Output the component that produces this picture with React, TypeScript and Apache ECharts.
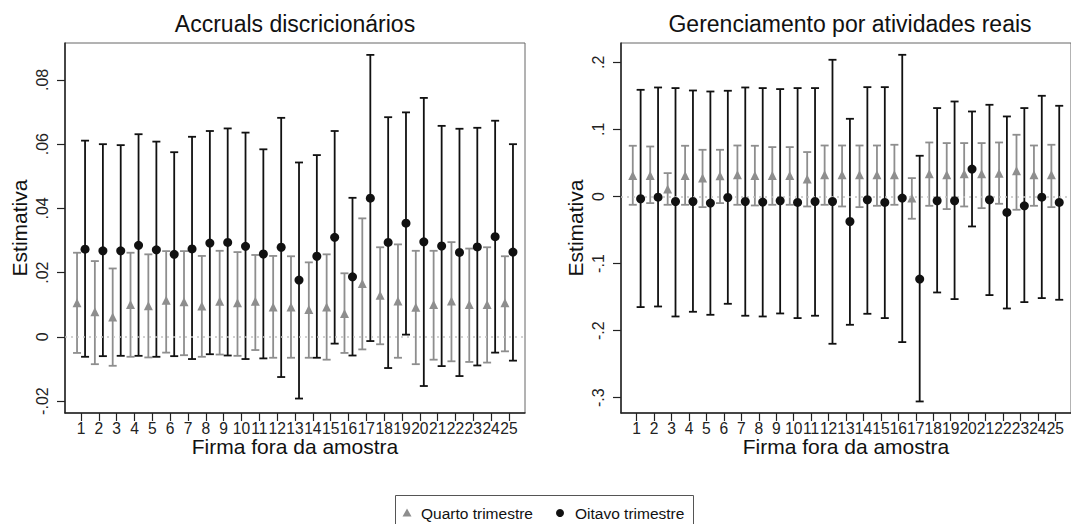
import React, { useEffect, useRef } from "react";
import * as echarts from "echarts";

const firms = [1, 2, 3, 4, 5, 6, 7, 8, 9, 10, 11, 12, 13, 14, 15, 16, 17, 18, 19, 20, 21, 22, 23, 24, 25];

// Accruals discricionários
const accQ4 = [0.0106, 0.0078, 0.0062, 0.0101, 0.0097, 0.0114, 0.0109, 0.0096, 0.0111, 0.0106, 0.0111, 0.0093, 0.0093, 0.0085, 0.0093, 0.0073, 0.0166, 0.013, 0.0112, 0.0092, 0.0101, 0.0112, 0.0101, 0.0101, 0.0106];
const accQ4Hi = [0.0262, 0.0236, 0.0213, 0.0262, 0.0257, 0.0267, 0.0267, 0.0252, 0.0268, 0.0264, 0.0255, 0.0252, 0.0251, 0.0232, 0.0257, 0.0198, 0.0369, 0.0279, 0.0288, 0.0268, 0.0268, 0.0295, 0.0275, 0.0279, 0.0251];
const accQ4Lo = [-0.005, -0.0085, -0.009, -0.0062, -0.0064, -0.0049, -0.0057, -0.0062, -0.0055, -0.0059, -0.0041, -0.0065, -0.0065, -0.0065, -0.0071, -0.005, -0.0039, -0.0023, -0.0065, -0.0085, -0.0071, -0.0076, -0.0078, -0.008, -0.0045];
const accQ8 = [0.0273, 0.0268, 0.0268, 0.0285, 0.0271, 0.0257, 0.0274, 0.0292, 0.0294, 0.0282, 0.0258, 0.0279, 0.0177, 0.0251, 0.031, 0.0187, 0.0432, 0.0294, 0.0354, 0.0296, 0.0283, 0.0263, 0.028, 0.0312, 0.0264];
const accQ8Hi = [0.0611, 0.06, 0.0597, 0.0631, 0.0608, 0.0575, 0.0623, 0.0641, 0.0649, 0.0636, 0.0584, 0.0682, 0.0543, 0.0566, 0.0641, 0.0433, 0.0878, 0.0684, 0.0699, 0.0744, 0.0657, 0.0648, 0.0651, 0.0673, 0.06];
const accQ8Lo = [-0.0062, -0.006, -0.0059, -0.0059, -0.0062, -0.006, -0.0069, -0.0054, -0.0058, -0.0069, -0.0067, -0.0125, -0.0192, -0.0065, -0.0021, -0.0058, -0.0013, -0.0097, 0.0007, -0.0153, -0.0091, -0.0122, -0.0089, -0.0049, -0.0074];

// Gerenciamento por atividades reais
const realQ4 = [0.0313, 0.0313, 0.011, 0.0313, 0.0274, 0.0308, 0.0323, 0.0313, 0.0313, 0.0313, 0.0259, 0.0323, 0.0323, 0.0323, 0.0323, 0.0323, -0.0024, 0.0338, 0.0323, 0.0338, 0.0338, 0.0348, 0.0383, 0.0323, 0.0323];
const realQ4Hi = [0.0756, 0.0745, 0.0348, 0.0756, 0.0696, 0.0696, 0.076, 0.0756, 0.0736, 0.0736, 0.0662, 0.076, 0.076, 0.076, 0.076, 0.0771, 0.0274, 0.0805, 0.0796, 0.0796, 0.0796, 0.0805, 0.092, 0.076, 0.0771];
const realQ4Lo = [-0.0124, -0.0099, -0.0124, -0.0124, -0.0159, -0.0099, -0.0124, -0.0134, -0.0124, -0.0124, -0.0149, -0.0124, -0.0149, -0.0159, -0.0139, -0.0124, -0.0332, -0.0139, -0.0188, -0.0149, -0.0174, -0.0109, -0.0198, -0.0139, -0.0159];
const realQ8 = [-0.0034, -0.001, -0.0075, -0.0075, -0.0099, -0.0015, -0.0075, -0.0084, -0.0064, -0.0089, -0.0075, -0.0075, -0.0373, -0.0049, -0.0089, -0.0024, -0.1231, -0.0064, -0.0064, 0.0408, -0.0049, -0.0238, -0.0139, -0.001, -0.0089];
const realQ8Hi = [0.159, 0.1625, 0.1616, 0.158, 0.1565, 0.1576, 0.1625, 0.1616, 0.1601, 0.1616, 0.1616, 0.2038, 0.1158, 0.163, 0.163, 0.2112, 0.0607, 0.1318, 0.1416, 0.1267, 0.1367, 0.1193, 0.1318, 0.1501, 0.1352];
const realQ8Lo = [-0.1649, -0.164, -0.1789, -0.1719, -0.1764, -0.16, -0.1778, -0.1789, -0.1744, -0.1813, -0.1778, -0.2196, -0.1913, -0.1749, -0.1813, -0.2171, -0.3056, -0.1431, -0.153, -0.0447, -0.147, -0.167, -0.1575, -0.1515, -0.154];

const accTicks = [-0.02, 0, 0.02, 0.04, 0.06, 0.08];
const realTicks = [-0.3, -0.2, -0.1, 0, 0.1, 0.2];

const titles = ["Accruals discricionários", "Gerenciamento por atividades reais"];
const xTitle = "Firma fora da amostra";
const yTitle = "Estimativa";
const seriesNames = ["Quarto trimestre", "Oitavo trimestre"];

const FONT = "'Liberation Sans', Arial, Helvetica, sans-serif";
const GRAY = "#8e8e8e";
const BLACK = "#111111";
const DODGE = 0.225;

const stataFmt = (digits: number) => (v: number) => {
  if (Math.abs(v) < 1e-9) return "0";
  return (v < 0 ? "-" : "") + Math.abs(v).toFixed(digits).replace(/^0/, "");
};

function errRender(color: string) {
  return (params: any, api: any) => {
    const x = api.value(0);
    const lo = api.coord([x, api.value(1)]);
    const hi = api.coord([x, api.value(2)]);
    const half = 4;
    const style = { stroke: color, lineWidth: 1.8 };
    return {
      type: "group",
      children: [
        { type: "line", shape: { x1: lo[0], y1: lo[1], x2: hi[0], y2: hi[1] }, style },
        { type: "line", shape: { x1: lo[0] - half, y1: lo[1], x2: lo[0] + half, y2: lo[1] }, style },
        { type: "line", shape: { x1: hi[0] - half, y1: hi[1], x2: hi[0] + half, y2: hi[1] }, style },
      ],
    };
  };
}

export default function App() {
  const ref = useRef<HTMLDivElement>(null);
  useEffect(() => {
    if (!ref.current) return;
    const chart = echarts.init(ref.current, undefined, { renderer: "svg" });

    const xAxisBase = (gridIndex: number) => ({
      type: "value",
      gridIndex,
      min: 0.1,
      max: 25.9,
      name: xTitle,
      nameLocation: "middle",
      nameGap: 23,
      nameMoveOverlap: false,
      nameTextStyle: { fontFamily: FONT, fontSize: 21, color: BLACK, verticalAlign: "top" },
      axisLine: { show: true, onZero: false, lineStyle: { color: "#222", width: 1.5 } },
      axisTick: { show: true, length: 8, customValues: firms, lineStyle: { color: "#222", width: 1.2 } },
      axisLabel: {
        show: true,
        customValues: firms,
        showMinLabel: true,
        showMaxLabel: true,
        hideOverlap: false,
        margin: 7,
        fontFamily: FONT,
        fontSize: 15.6,
        color: "#222",
        formatter: (v: number) => String(Math.round(v)),
      },
      splitLine: { show: false },
    });

    const yAxisBase = (gridIndex: number, min: number, max: number, ticks: number[], digits: number) => ({
      type: "value",
      gridIndex,
      min,
      max,
      name: yTitle,
      nameLocation: "middle",
      nameGap: 35,
      nameMoveOverlap: false,
      nameTextStyle: { fontFamily: FONT, fontSize: 21, color: BLACK },
      axisLine: { show: true, onZero: false, lineStyle: { color: "#222", width: 1.5 } },
      axisTick: { show: true, length: 8, customValues: ticks, lineStyle: { color: "#222", width: 1.2 } },
      axisLabel: {
        show: true,
        customValues: ticks,
        rotate: 90,
        margin: 15,
        fontFamily: FONT,
        fontSize: 16,
        color: "#222",
        formatter: stataFmt(digits),
      },
      splitLine: { show: false },
    });

    const zeroLine = {
      silent: true,
      symbol: "none",
      label: { show: false },
      lineStyle: { type: [2, 4], color: "#c4c4c4", width: 1.5 },
      emphasis: { disabled: true },
      data: [{ yAxis: 0 }],
    };

    const panel = (
      idx: number,
      q4: number[], q4Lo: number[], q4Hi: number[],
      q8: number[], q8Lo: number[], q8Hi: number[]
    ) => [
      {
        type: "custom",
        name: seriesNames[0] + " IC",
        xAxisIndex: idx,
        yAxisIndex: idx,
        z: 2,
        renderItem: errRender(GRAY),
        encode: { x: 0, y: [1, 2] },
        data: firms.map((f, i) => [f - DODGE, q4Lo[i], q4Hi[i]]),
        markLine: zeroLine,
      },
      {
        type: "custom",
        name: seriesNames[1] + " IC",
        xAxisIndex: idx,
        yAxisIndex: idx,
        z: 3,
        renderItem: errRender(BLACK),
        encode: { x: 0, y: [1, 2] },
        data: firms.map((f, i) => [f + DODGE, q8Lo[i], q8Hi[i]]),
      },
      {
        type: "scatter",
        name: seriesNames[0],
        xAxisIndex: idx,
        yAxisIndex: idx,
        z: 4,
        symbol: "triangle",
        symbolSize: 9,
        itemStyle: { color: GRAY, opacity: 1 },
        data: firms.map((f, i) => [f - DODGE, q4[i]]),
      },
      {
        type: "scatter",
        name: seriesNames[1],
        xAxisIndex: idx,
        yAxisIndex: idx,
        z: 5,
        symbol: "circle",
        symbolSize: 9,
        itemStyle: { color: BLACK, opacity: 1 },
        data: firms.map((f, i) => [f + DODGE, q8[i]]),
      },
    ];

    chart.setOption({
      animation: false,
      backgroundColor: "#ffffff",
      textStyle: { fontFamily: FONT },
      grid: [
        { left: 65, top: 43, width: 460, height: 370, show: true, borderColor: "#666", borderWidth: 1, backgroundColor: "#fff" },
        { left: 621, top: 43, width: 460, height: 370, show: true, borderColor: "#666", borderWidth: 1, backgroundColor: "#fff" },
      ],
      xAxis: [xAxisBase(0), xAxisBase(1)],
      yAxis: [
        yAxisBase(0, -0.0237, 0.0915, accTicks, 2),
        yAxisBase(1, -0.3228, 0.2288, realTicks, 1),
      ],
      series: [
        ...panel(0, accQ4, accQ4Lo, accQ4Hi, accQ8, accQ8Lo, accQ8Hi),
        ...panel(1, realQ4, realQ4Lo, realQ4Hi, realQ8, realQ8Lo, realQ8Hi),
      ],
      graphic: [
        {
          type: "text",
          x: 295,
          y: 24,
          style: { text: titles[0], fontFamily: FONT, fontSize: 23, fill: BLACK, align: "center", verticalAlign: "middle" },
        },
        {
          type: "text",
          x: 850,
          y: 24,
          style: { text: titles[1], fontFamily: FONT, fontSize: 23, fill: BLACK, align: "center", verticalAlign: "middle" },
        },
        {
          type: "rect",
          shape: { x: 395.5, y: 495.5, width: 298, height: 40 },
          style: { fill: "#fff", stroke: "#555", lineWidth: 1 },
        },
        {
          type: "polygon",
          shape: { points: [[407, 508.5], [411.5, 516.5], [402.5, 516.5]] },
          style: { fill: GRAY },
        },
        {
          type: "text",
          x: 421,
          y: 513,
          style: { text: seriesNames[0], fontFamily: FONT, fontSize: 15.5, fill: BLACK, align: "left", verticalAlign: "middle" },
        },
        {
          type: "circle",
          shape: { cx: 560, cy: 513, r: 4 },
          style: { fill: BLACK },
        },
        {
          type: "text",
          x: 575,
          y: 513,
          style: { text: seriesNames[1], fontFamily: FONT, fontSize: 15.5, fill: BLACK, align: "left", verticalAlign: "middle" },
        },
      ],
    });
    return () => chart.dispose();
  }, []);

  return (
    <div style={{ position: "fixed", left: 0, top: 0, width: 1071, height: 524, overflow: "hidden", background: "#fff" }}>
      <div ref={ref} style={{ width: 1071, height: 524 }} />
    </div>
  );
}
